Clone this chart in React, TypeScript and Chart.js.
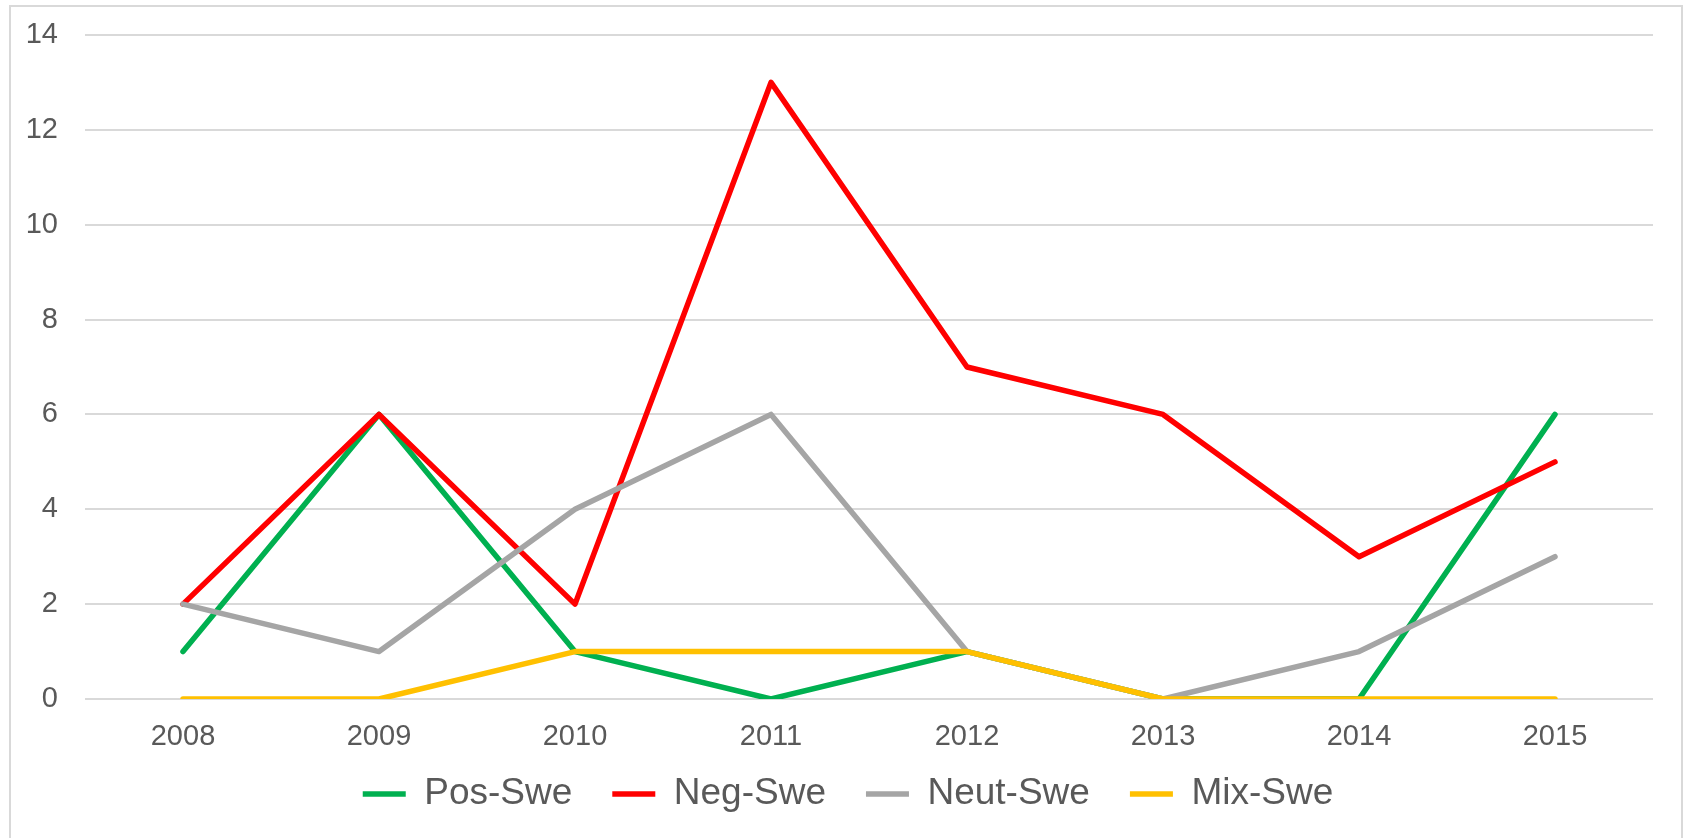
import React, { useEffect, useRef } from "react";
import { Chart, registerables } from "chart.js";

Chart.register(...registerables);

const years = ["2008", "2009", "2010", "2011", "2012", "2013", "2014", "2015"];
const posSwe = [1, 6, 1, 0, 1, 0, 0, 6];
const negSwe = [2, 6, 2, 13, 7, 6, 3, 5];
const neutSwe = [2, 1, 4, 6, 1, 0, 1, 3];
const mixSwe = [0, 0, 1, 1, 1, 0, 0, 0];
const yTicks = [0, 2, 4, 6, 8, 10, 12, 14];

const seriesNames = ["Pos-Swe", "Neg-Swe", "Neut-Swe", "Mix-Swe"];
const seriesColors = ["#00b050", "#ff0000", "#a5a5a5", "#ffc000"];

const FONT = "'Liberation Sans', Arial, sans-serif";

const legendShift = {
  id: "legendShift",
  afterLayout(chart: any) {
    const lg = chart.legend;
    if (lg) {
      lg.top -= 15.5;
      lg.bottom -= 15.5;
    }
  },
};

export default function App() {
  const canvasRef = useRef<HTMLCanvasElement | null>(null);

  useEffect(() => {
    const canvas = canvasRef.current;
    if (!canvas) return;
    const values = [posSwe, negSwe, neutSwe, mixSwe];
    const chart = new Chart(canvas, {
      type: "line",
      data: {
        labels: years,
        datasets: values.map((v, i) => ({
          label: seriesNames[i],
          data: v,
          borderColor: seriesColors[i],
          backgroundColor: seriesColors[i],
          borderWidth: 5.5,
          pointRadius: 0,
          pointHoverRadius: 0,
          tension: 0,
          borderCapStyle: "round" as const,
          borderJoinStyle: "round" as const,
          fill: false,
          order: values.length - i,
          yAxisID: "y",
        })),
      },
      plugins: [legendShift],
      options: {
        responsive: false,
        animation: false,
        layout: { padding: { left: 4, right: 0, top: 28, bottom: 0 } },
        plugins: {
          tooltip: { enabled: false },
          legend: {
            position: "bottom",
            labels: {
              usePointStyle: true,
              pointStyle: "line",
              pointStyleWidth: 43,
              padding: 40,
              color: "#595959",
              font: { family: FONT, size: 37 },
              sort: (a: any, b: any) => a.datasetIndex - b.datasetIndex,
            },
          },
        },
        scales: {
          x: {
            offset: true,
            grid: { display: false, drawTicks: false },
            border: { display: false },
            ticks: {
              padding: 21,
              color: "#595959",
              font: { family: FONT, size: 29 },
              maxRotation: 0,
            },
            afterFit: (s: any) => {
              s.height = 52;
            },
          },
          y: {
            min: 0,
            max: 14,
            afterBuildTicks: (s: any) => {
              s.ticks = yTicks.map((v) => ({ value: v }));
            },
            grid: { color: "#d9d9d9", lineWidth: 2, drawTicks: false },
            border: { display: false },
            ticks: {
              padding: 27,
              color: "#595959",
              font: { family: FONT, size: 29 },
            },
            afterFit: (s: any) => {
              s.width = 70;
              s.paddingTop = 0;
              s.paddingBottom = 0;
            },
          },
          y2: {
            type: "linear",
            position: "right",
            display: true,
            grid: { display: false, drawTicks: false },
            border: { display: false },
            ticks: { display: false },
            afterFit: (s: any) => {
              s.width = 28;
              s.paddingTop = 0;
              s.paddingBottom = 0;
            },
          },
        },
      },
    });
    return () => chart.destroy();
  }, []);

  return (
    <div
      style={{
        position: "absolute",
        left: 9,
        top: 5,
        width: 1674,
        height: 833,
        boxSizing: "border-box",
        border: "2px solid #d9d9d9",
        borderBottom: "none",
        background: "#ffffff",
      }}
    >
      <canvas ref={canvasRef} width={1670} height={831} style={{ display: "block" }} />
    </div>
  );
}
